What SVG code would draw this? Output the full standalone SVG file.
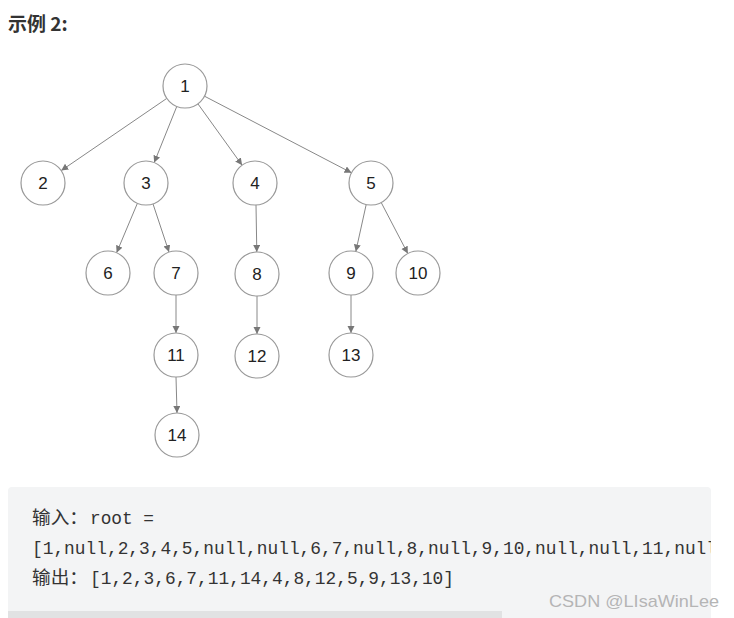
<svg xmlns="http://www.w3.org/2000/svg" width="734" height="618" viewBox="0 0 734 618">
<style>
.n circle{fill:#fff;stroke:#999;stroke-width:1.2}
.n text{font-family:"Liberation Sans",Arial,sans-serif;font-size:17px;fill:#222;text-anchor:middle;dominant-baseline:central}
.e line{stroke:#888;stroke-width:1;marker-end:url(#ah)}
.mono{font-family:"Liberation Mono","Noto Sans CJK SC",monospace;font-size:18px;fill:#333}
.cjk{font-family:"Noto Sans CJK SC",sans-serif;font-size:18px;fill:#333}
</style>
<defs>
<marker id="ah" markerWidth="8" markerHeight="8" refX="7" refY="3.5" orient="auto" markerUnits="userSpaceOnUse">
<path d="M0,0 L7,3.5 L0,7 Z" fill="#777"/>
</marker>
<clipPath id="cb"><rect x="8" y="487" width="703" height="131"/></clipPath>
</defs>
<rect width="734" height="618" fill="#fff"/>
<text x="8" y="31" style="font-family:'Noto Sans CJK SC','Liberation Sans',sans-serif;font-size:19px;font-weight:bold;fill:#333">示例 2:</text>
<g class="e" id="edges">
<line x1="166.8" y1="98.4" x2="61.2" y2="170.6"/>
<line x1="176.8" y1="106.4" x2="154.2" y2="162.6"/>
<line x1="197.9" y1="103.8" x2="242.1" y2="165.2"/>
<line x1="204.5" y1="96.2" x2="351.5" y2="172.8"/>
<line x1="137.4" y1="203.3" x2="116.6" y2="252.7"/>
<line x1="153" y1="203.9" x2="169" y2="252.1"/>
<line x1="256" y1="205" x2="256.8" y2="252"/>
<line x1="366.2" y1="204.5" x2="355.8" y2="251.5"/>
<line x1="381.2" y1="202.5" x2="407.8" y2="253.5"/>
<line x1="176" y1="295" x2="176" y2="333"/>
<line x1="257" y1="296" x2="257" y2="334"/>
<line x1="351" y1="295" x2="351" y2="333"/>
<line x1="176" y1="377" x2="177" y2="413"/>
</g>
<g class="n" id="n1"><circle cx="185" cy="86" r="22"/><text x="185" y="86">1</text></g>
<g class="n" id="n2"><circle cx="43" cy="183" r="22"/><text x="43" y="183">2</text></g>
<g class="n" id="n3"><circle cx="146" cy="183" r="22"/><text x="146" y="183">3</text></g>
<g class="n" id="n4"><circle cx="255" cy="183" r="22"/><text x="255" y="183">4</text></g>
<g class="n" id="n5"><circle cx="371" cy="183" r="22"/><text x="371" y="183">5</text></g>
<g class="n" id="n6"><circle cx="108" cy="273" r="22"/><text x="108" y="273">6</text></g>
<g class="n" id="n7"><circle cx="176" cy="273" r="22"/><text x="176" y="273">7</text></g>
<g class="n" id="n8"><circle cx="257" cy="274" r="22"/><text x="257" y="274">8</text></g>
<g class="n" id="n9"><circle cx="351" cy="273" r="22"/><text x="351" y="273">9</text></g>
<g class="n" id="n10"><circle cx="418" cy="273" r="22"/><text x="418" y="273">10</text></g>
<g class="n" id="n11"><circle cx="176" cy="355" r="22"/><text x="176" y="355">11</text></g>
<g class="n" id="n12"><circle cx="257" cy="356" r="22"/><text x="257" y="356">12</text></g>
<g class="n" id="n13"><circle cx="351" cy="355" r="22"/><text x="351" y="355">13</text></g>
<g class="n" id="n14"><circle cx="177" cy="435" r="22"/><text x="177" y="435">14</text></g>
<g id="code">
<rect x="8" y="487" width="703" height="140" rx="4" fill="#f3f4f5"/>
<rect x="8" y="611" width="494" height="7" fill="#e1e2e3"/>
<g clip-path="url(#cb)">
<text x="32" y="524" class="cjk" textLength="56" lengthAdjust="spacingAndGlyphs">输入：</text>
<text x="90" y="524" class="mono" textLength="64" lengthAdjust="spacingAndGlyphs">root =</text>
<text x="32" y="554" class="mono" textLength="685" lengthAdjust="spacingAndGlyphs">[1,null,2,3,4,5,null,null,6,7,null,8,null,9,10,null,null,11,null</text>
<text x="32" y="584" class="cjk" textLength="56" lengthAdjust="spacingAndGlyphs">输出：</text>
<text x="90" y="584" class="mono" textLength="364" lengthAdjust="spacingAndGlyphs">[1,2,3,6,7,11,14,4,8,12,5,9,13,10]</text>
</g>
</g>
<text x="549" y="607" style="font-family:'Liberation Sans',Arial,sans-serif;font-size:17px;fill:#b5b5b5" textLength="170" lengthAdjust="spacingAndGlyphs">CSDN @LIsaWinLee</text>
</svg>
